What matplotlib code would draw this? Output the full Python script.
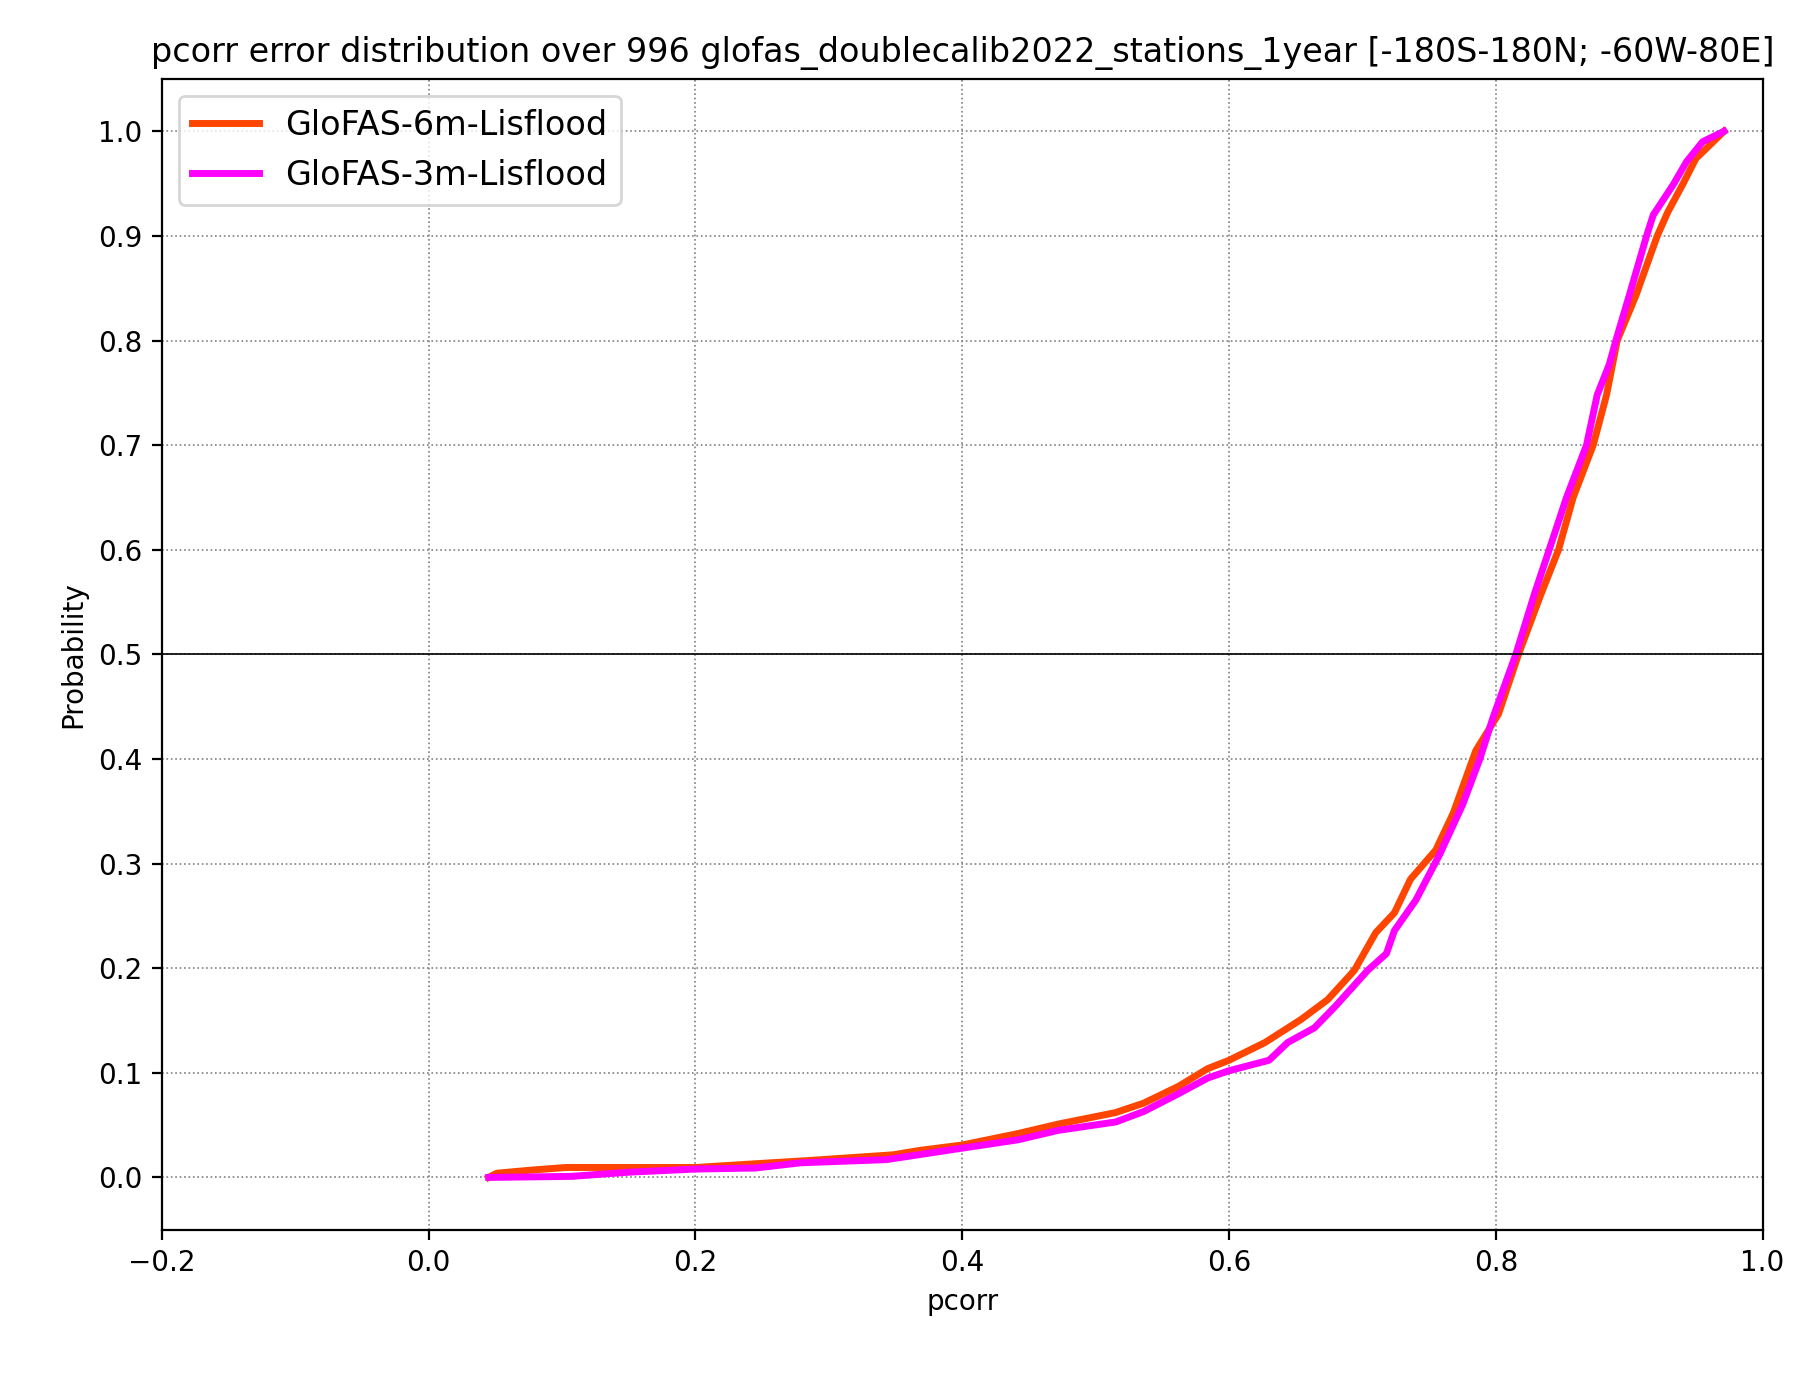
import matplotlib
matplotlib.use("Agg")
import matplotlib.pyplot as plt

x_6m = [0.045, 0.051, 0.077, 0.103, 0.20, 0.253, 0.283, 0.348, 0.369, 0.40,
        0.442, 0.472, 0.515, 0.536, 0.562, 0.584, 0.60, 0.627, 0.654, 0.674,
        0.694, 0.71, 0.724, 0.736, 0.755, 0.768, 0.785, 0.802, 0.817, 0.834,
        0.847, 0.858, 0.873, 0.883, 0.891, 0.905, 0.921, 0.929, 0.940, 0.950,
        0.963, 0.971]
p_6m = [0.0, 0.004, 0.007, 0.0095, 0.0095, 0.0137, 0.016, 0.0216, 0.026, 0.031,
        0.042, 0.051, 0.062, 0.071, 0.087, 0.104, 0.112, 0.129, 0.151, 0.170,
        0.198, 0.234, 0.253, 0.285, 0.313, 0.348, 0.408, 0.443, 0.5, 0.558,
        0.6, 0.65, 0.7, 0.748, 0.8, 0.843, 0.9, 0.923, 0.949, 0.974,
        0.99, 1.0]

x_3m = [0.045, 0.107, 0.15, 0.20, 0.245, 0.279, 0.343, 0.369, 0.40, 0.442,
        0.472, 0.515, 0.536, 0.562, 0.584, 0.60, 0.63, 0.644, 0.664, 0.68,
        0.704, 0.718, 0.724, 0.74, 0.758, 0.775, 0.788, 0.798, 0.815, 0.829,
        0.840, 0.853, 0.868, 0.876, 0.885, 0.890, 0.900, 0.913, 0.918, 0.933,
        0.943, 0.955, 0.971]
p_3m = [0.0, 0.001, 0.005, 0.008, 0.009, 0.014, 0.017, 0.022, 0.028, 0.036,
        0.045, 0.053, 0.063, 0.080, 0.095, 0.102, 0.112, 0.129, 0.143, 0.164,
        0.198, 0.214, 0.236, 0.265, 0.309, 0.356, 0.40, 0.44, 0.5, 0.558,
        0.6, 0.65, 0.7, 0.748, 0.777, 0.8, 0.843, 0.9, 0.92, 0.949,
        0.971, 0.99, 1.0]

n_stations = 996
title = ("pcorr error distribution over %d glofas_doublecalib2022_stations_1year "
         "[-180S-180N; -60W-80E]" % n_stations)

fig = plt.figure(figsize=(1819 / 200, 1374 / 200), dpi=200)
ax = fig.add_subplot(111)
fig.subplots_adjust(left=0.089, right=0.969, top=0.9425, bottom=0.105)

ax.plot(x_6m, p_6m, color="orangered", lw=2.5, label="GloFAS-6m-Lisflood")
ax.plot(x_3m, p_3m, color="magenta", lw=2.5, label="GloFAS-3m-Lisflood")
ax.axhline(0.5, color="black", lw=0.6)

ax.set_xlim(-0.2, 1.0)
ax.set_ylim(-0.05, 1.05)
ax.set_yticks([i / 10 for i in range(11)])
ax.grid(True, linestyle=":", color="gray", lw=0.6)
ax.set_xlabel("pcorr")
ax.set_ylabel("Probability")
ax.set_title(title, fontsize=12)
ax.legend(loc="upper left", fontsize=12)

fig.savefig("out.png", dpi=200)
